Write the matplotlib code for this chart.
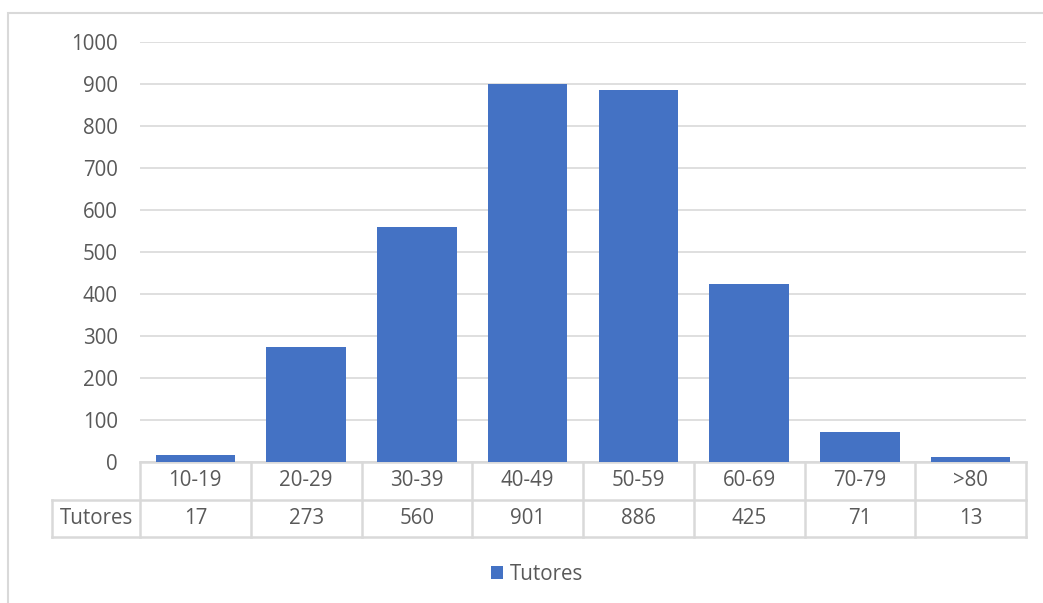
# Tutores por grupo de edad: barras con tabla de datos debajo
import matplotlib
matplotlib.use("Agg")
import matplotlib.pyplot as plt
from matplotlib.patches import Rectangle

edades = ["10-19", "20-29", "30-39", "40-49", "50-59", "60-69", "70-79", ">80"]
tutores = [17, 273, 560, 901, 886, 425, 71, 13]
serie = "Tutores"

azul = "#4472C4"
gris = "#D9D9D9"
texto = "#595959"
fs = 14.8

plt.rcParams["font.family"] = ["Open Sans", "DejaVu Sans"]

fig = plt.figure(figsize=(10.43, 6.03), dpi=100)
W, H = 1043, 603

# marco del gráfico
fig.patches.append(Rectangle((8 / W, -0.1), 1.1, 1 - 13 / H + 0.1,
                             transform=fig.transFigure, fill=False,
                             edgecolor=gris, lw=1.5))

ax = fig.add_axes([140 / W, 1 - 462 / H, 886 / W, 420 / H])
x = range(len(edades))
ax.bar(x, tutores, width=0.72, color=azul, zorder=3, label=serie)
ax.set_xlim(-0.5, len(edades) - 0.5)
ax.set_ylim(0, 1000)
ax.set_yticks(range(0, 1001, 100))
ax.set_xticks([])
ax.tick_params(axis="y", length=0, pad=16, labelsize=fs, labelcolor=texto)
ax.grid(axis="y", color=gris, lw=1.2, zorder=0)
for s in ax.spines.values():
    s.set_visible(False)

# tabla de datos
fila = 37.5 / 420
izq = -88 / 886
n = len(edades)
kw = dict(transform=ax.transAxes, color=gris, lw=1.8, clip_on=False)
ax.plot([0, 1], [0, 0], **kw)
ax.plot([izq, 1], [-fila, -fila], **kw)
ax.plot([izq, 1], [-2 * fila, -2 * fila], **kw)
for i in range(n + 1):
    ax.plot([i / n, i / n], [0, -2 * fila], **kw)
ax.plot([izq, izq], [-fila, -2 * fila], **kw)

tkw = dict(transform=ax.transAxes, ha="center", va="center",
           fontsize=fs, color=texto)
for i, (e, v) in enumerate(zip(edades, tutores)):
    ax.text((i + 0.5) / n, -0.5 * fila, e, **tkw)
    ax.text((i + 0.5) / n, -1.5 * fila, str(v), **tkw)
ax.text(izq / 2, -1.5 * fila, serie, **tkw)

fig.legend(loc="center", bbox_to_anchor=(537 / W, 1 - 574 / H),
           frameon=False, fontsize=fs, labelcolor=texto,
           handlelength=0.6, handleheight=0.6, handletextpad=0.35)

fig.savefig("out.png", dpi=100)
